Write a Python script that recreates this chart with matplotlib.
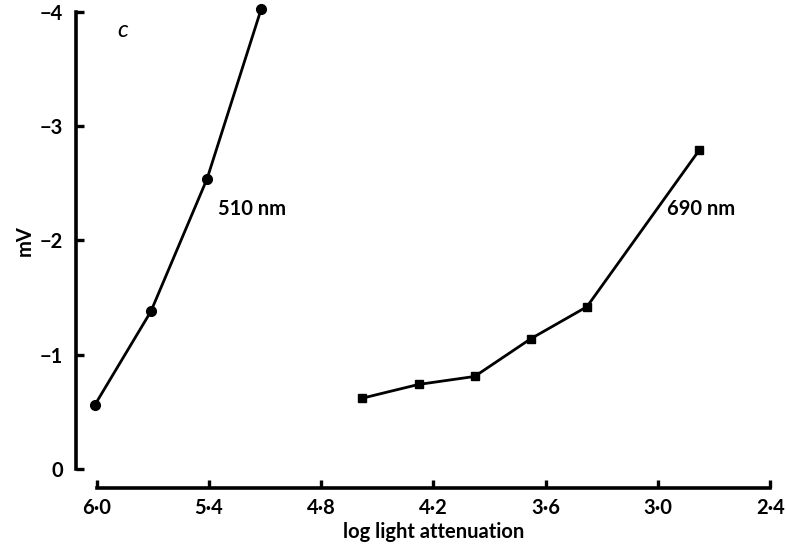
import matplotlib
matplotlib.use("Agg")
import matplotlib.pyplot as plt

# values (log attenuation, mV)
x_510 = [6.01, 5.71, 5.41, 5.12]
y_510 = [-0.56, -1.38, -2.54, -4.03]
x_690 = [4.58, 4.28, 3.98, 3.68, 3.38, 2.78]
y_690 = [-0.62, -0.74, -0.81, -1.14, -1.42, -2.79]

x_ticks = [6.0, 5.4, 4.8, 4.2, 3.6, 3.0, 2.4]
x_labels = ['6·0', '5·4', '4·8', '4·2', '3·6', '3·0', '2·4']
y_ticks = [0, -1, -2, -3, -4]
y_labels = ['0', '−1', '−2', '−3', '−4']

plt.rcParams['font.family'] = ['Lato', 'DejaVu Sans']
plt.rcParams['font.weight'] = 'bold'

fig = plt.figure(figsize=(7.86, 5.47), dpi=100)
ax = fig.add_axes([0.123, 0.1426, 0.857, 0.8355])

ax.plot(x_510, y_510, color='black', lw=2, marker='o', ms=7, clip_on=False)
ax.plot(x_690, y_690, color='black', lw=2, marker='s', ms=5.5, clip_on=False)

ax.set_xlim(6.0, 2.4)
ax.set_ylim(0, -4)

for s in ['top', 'right']:
    ax.spines[s].set_visible(False)
ax.spines['left'].set_position(('outward', 15))
ax.spines['bottom'].set_position(('outward', 14))
ax.spines['left'].set_bounds(0, -4)
ax.spines['bottom'].set_bounds(6.0, 2.4)
for s in ['left', 'bottom']:
    ax.spines[s].set_linewidth(2.6)

ax.set_xticks(x_ticks)
ax.set_xticklabels(x_labels)
ax.set_yticks(y_ticks)
ax.set_yticklabels(y_labels)
ax.tick_params(direction='in', length=6, width=2.4, labelsize=14.5)
ax.tick_params(axis='y', pad=9)
ax.tick_params(axis='x', pad=7)

ax.set_xlabel('log light attenuation', fontsize=14.5, fontweight='bold', labelpad=3)
ax.set_ylabel('mV', fontsize=14.5, fontweight='bold', labelpad=4)

ax.text(5.89, -3.78, 'c', fontsize=17, style='italic', fontweight='normal')
ax.text(5.35, -2.22, '510 nm', fontsize=14.5, fontweight='bold')
ax.text(2.95, -2.22, '690 nm', fontsize=14.5, fontweight='bold')

fig.savefig('out.png', dpi=100)
